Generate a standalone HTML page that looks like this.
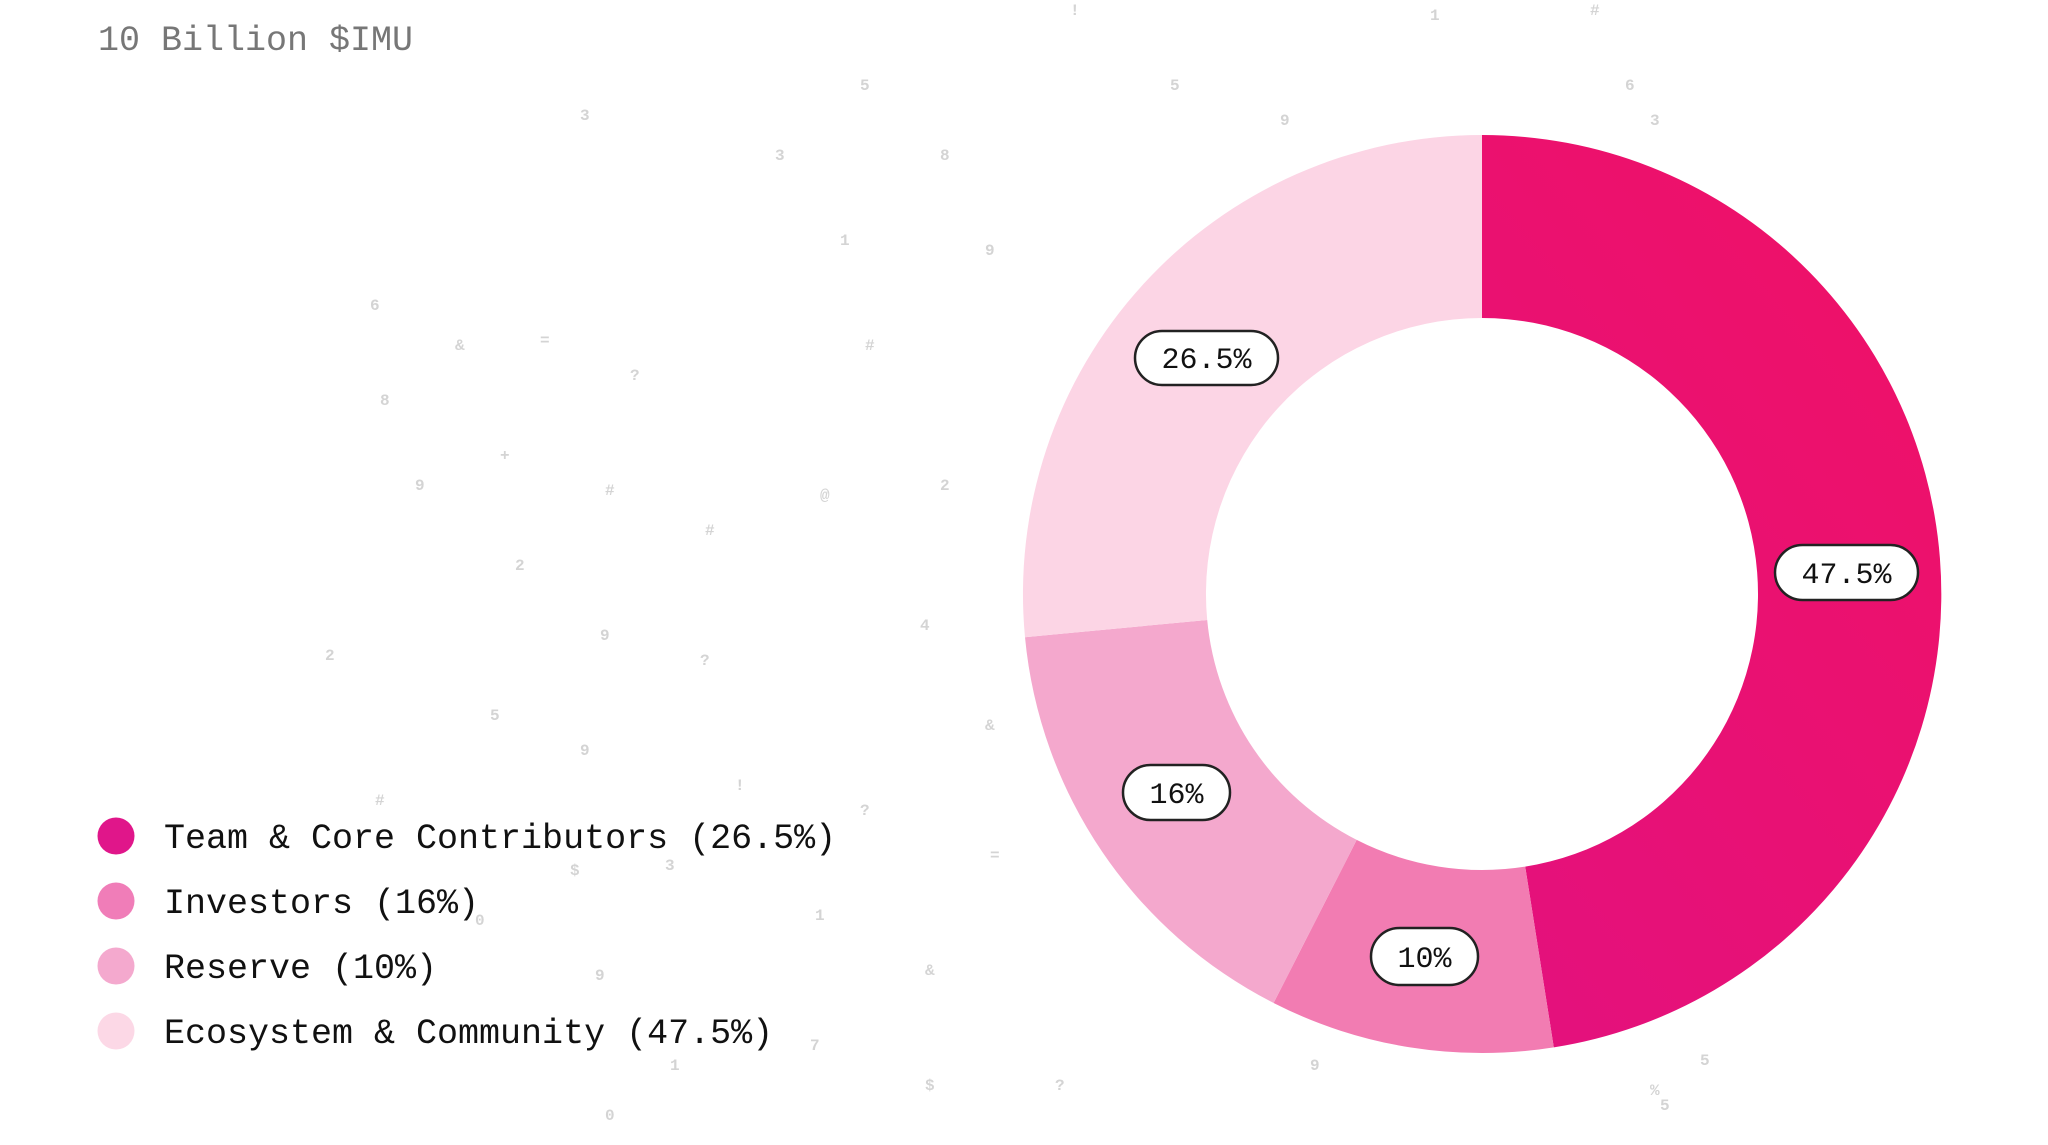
<!DOCTYPE html>
<html><head><meta charset="utf-8"><style>
html,body{margin:0;padding:0;background:#fff;}
body{width:2048px;height:1145px;position:relative;overflow:hidden;font-family:"Liberation Mono",monospace;}
</style></head><body>
<svg width="2048" height="1145" viewBox="0 0 2048 1145" xmlns="http://www.w3.org/2000/svg" style="position:absolute;left:0;top:0">
<defs>
<linearGradient id="g1" x1="0" y1="1" x2="0.6" y2="0">
<stop offset="0" stop-color="#E3117E"/><stop offset="1" stop-color="#EE1169"/>
</linearGradient>
</defs>
<g fill="#d4d4d4" font-family="Liberation Mono, monospace" font-size="16" font-weight="bold">
<text x="580" y="120">3</text><text x="860" y="90">5</text><text x="1170" y="90">5</text><text x="1280" y="125">9</text>
<text x="775" y="160">3</text><text x="940" y="160">8</text><text x="840" y="245">1</text><text x="985" y="255">9</text>
<text x="370" y="310">6</text><text x="540" y="345">=</text><text x="455" y="350">&amp;</text><text x="865" y="350">#</text>
<text x="630" y="380">?</text><text x="380" y="405">8</text><text x="500" y="460">+</text><text x="415" y="490">9</text>
<text x="605" y="495">#</text><text x="940" y="490">2</text><text x="820" y="500">@</text><text x="705" y="535">#</text>
<text x="515" y="570">2</text><text x="600" y="640">9</text><text x="920" y="630">4</text><text x="325" y="660">2</text>
<text x="700" y="665">?</text><text x="490" y="720">5</text><text x="985" y="730">&amp;</text><text x="580" y="755">9</text>
<text x="375" y="805">#</text><text x="735" y="790">!</text><text x="860" y="815">?</text><text x="990" y="860">=</text>
<text x="570" y="875">$</text><text x="665" y="870">3</text><text x="475" y="925">0</text><text x="815" y="920">1</text>
<text x="595" y="980">9</text><text x="925" y="975">&amp;</text><text x="810" y="1050">7</text><text x="670" y="1070">1</text>
<text x="925" y="1090">$</text><text x="1055" y="1090">?</text><text x="1310" y="1070">9</text><text x="605" y="1120">0</text>
<text x="1650" y="1095">%</text><text x="1660" y="1110">5</text><text x="1700" y="1065">5</text><text x="1430" y="20">1</text>
<text x="1590" y="15">#</text><text x="1070" y="15">!</text><text x="1625" y="90">6</text><text x="1650" y="125">3</text>
</g>
<text x="98" y="50" font-family="Liberation Mono, monospace" font-size="35" fill="#777">10 Billion $IMU</text>
<path d="M1482 135 A459 459 0 0 1 1553.8 1047.4 L1525.2 866.6 A276 276 0 0 0 1482 318 Z" fill="url(#g1)"/>
<path d="M1553.8 1047.4 A459 459 0 0 1 1273.6 1003 L1356.7 839.9 A276 276 0 0 0 1525.2 866.6 Z" fill="#F27CB2"/>
<path d="M1273.6 1003 A459 459 0 0 1 1025 637.2 L1207.2 620 A276 276 0 0 0 1356.7 839.9 Z" fill="#F4A8CD"/>
<path d="M1025 637.2 A459 459 0 0 1 1482 135 L1482 318 A276 276 0 0 0 1207.2 620 Z" fill="#FCD5E5"/>
<g font-family="Liberation Mono, monospace" font-size="30" fill="#111" text-anchor="middle" stroke-width="2.5">
<rect x="1775" y="545" width="143" height="55" rx="27.5" fill="#fff" stroke="#222"/>
<text x="1846.5" y="583" stroke="none">47.5%</text>
<rect x="1135" y="331" width="143" height="54" rx="27" fill="#fff" stroke="#222"/>
<text x="1206.5" y="368" stroke="none">26.5%</text>
<rect x="1123" y="765" width="107" height="55" rx="27.5" fill="#fff" stroke="#222"/>
<text x="1176.5" y="803" stroke="none">16%</text>
<rect x="1371" y="928" width="107" height="57" rx="28.5" fill="#fff" stroke="#222"/>
<text x="1424.5" y="967" stroke="none">10%</text>
</g>
<circle cx="116" cy="836" r="18.5" fill="#E0168A"/>
<circle cx="116" cy="901" r="18.5" fill="#F07DB8"/>
<circle cx="116" cy="966" r="18.5" fill="#F4A9CE"/>
<circle cx="116" cy="1031" r="18.5" fill="#FCD8E6"/>
<g font-family="Liberation Mono, monospace" font-size="35" fill="#111">
<text x="164" y="848">Team &amp; Core Contributors (26.5%)</text>
<text x="164" y="913">Investors (16%)</text>
<text x="164" y="978">Reserve (10%)</text>
<text x="164" y="1043">Ecosystem &amp; Community (47.5%)</text>
</g>
</svg>
</body></html>
